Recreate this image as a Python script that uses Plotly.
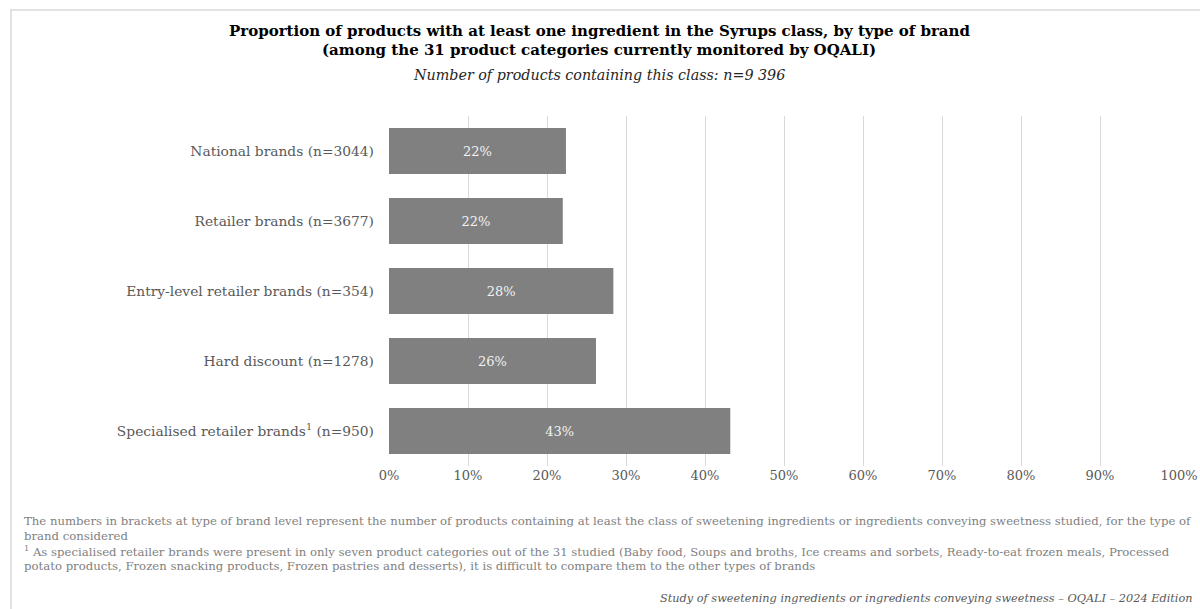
import plotly.graph_objects as go

categories = [
    "National brands (n=3044)",
    "Retailer brands (n=3677)",
    "Entry-level retailer brands (n=354)",
    "Hard discount (n=1278)",
    "Specialised retailer brands<sup>1</sup> (n=950)",
]
values = [22.4, 22.0, 28.4, 26.2, 43.2]
value_labels = ["22%", "22%", "28%", "26%", "43%"]
tick_vals = [0, 10, 20, 30, 40, 50, 60, 70, 80, 90, 100]
tick_text = ["0%", "10%", "20%", "30%", "40%", "50%", "60%", "70%", "80%", "90%", "100%"]

title_l1 = "Proportion of products with at least one ingredient in the Syrups class, by type of brand"
title_l2 = "(among the 31 product categories currently monitored by OQALI)"
subtitle = "Number of products containing this class: n=9 396"
foot1 = ("The numbers in brackets at type of brand level represent the number of products containing at least the class of "
         "sweetening ingredients or ingredients conveying sweetness studied, for the type of")
foot2 = "brand considered"
foot3 = ("<sup>1</sup> As specialised retailer brands were present in only seven product categories out of the 31 studied "
         "(Baby food, Soups and broths, Ice creams and sorbets, Ready-to-eat frozen meals, Processed")
foot4 = ("potato products, Frozen snacking products, Frozen pastries and desserts), it is difficult to compare them "
         "to the other types of brands")
source = "Study of sweetening ingredients or ingredients conveying sweetness \u2013 OQALI \u2013 2024 Edition"

FONT = "DejaVu Serif"
W, H = 1200, 609
L, R, T, B = 389, 1179, 116, 466

def px(x):
    return (x - L) / (R - L)

def py(y):
    return (B - y) / (B - T)

fig = go.Figure(go.Bar(
    y=categories, x=values, orientation="h",
    marker=dict(color="#808080", line=dict(width=0)),
    text=value_labels, textposition="inside", insidetextanchor="middle",
    textfont=dict(family=FONT, size=13, color="#f2f2f2"),
    hoverinfo="skip",
))

fig.update_layout(
    width=W, height=H,
    margin=dict(l=L, r=W - R, t=T, b=H - B, pad=0, autoexpand=False),
    paper_bgcolor="white", plot_bgcolor="white",
    bargap=0.34,
    showlegend=False,
    font=dict(family=FONT, color="#595959"),
    xaxis=dict(range=[0, 100], tickvals=tick_vals, ticktext=tick_text,
               showgrid=True, gridcolor="#d9d9d9", gridwidth=1, automargin=False,
               zeroline=False, showline=False, ticks="",
               tickfont=dict(family=FONT, size=13, color="#595959"), fixedrange=True),
    yaxis=dict(autorange="reversed", showgrid=False, zeroline=False, showline=False,
               ticks="", ticklabelstandoff=14, automargin=False,
               tickfont=dict(family=FONT, size=13.8, color="#595959"), fixedrange=True),
)

ann = [
    dict(text="<b>" + title_l1 + "</b>", x=px(599), y=py(31), font=dict(size=15, color="#000000")),
    dict(text="<b>" + title_l2 + "</b>", x=px(599), y=py(50), font=dict(size=15, color="#000000")),
    dict(text="<i>" + subtitle + "</i>", x=px(599), y=py(75), font=dict(size=14.3, color="#262626")),
]
for a in ann:
    a.update(xref="paper", yref="paper", showarrow=False, xanchor="center", yanchor="middle")

foot_font = dict(family=FONT, size=11.7, color="#7f7f7f")
for txt, yy in [(foot1, 521), (foot2, 536), (foot3, 551), (foot4, 566)]:
    ann.append(dict(text=txt, x=px(22), y=py(yy), xref="paper", yref="paper", showarrow=False,
                    xanchor="left", yanchor="middle", font=foot_font))
ann.append(dict(text="<i>" + source + "</i>", x=px(1195), y=py(598), xref="paper", yref="paper",
                showarrow=False, xanchor="right", yanchor="middle",
                font=dict(family=FONT, size=11.3, color="#595959")))
fig.update_layout(annotations=ann)

fig.add_shape(type="rect", xref="paper", yref="paper",
              x0=px(11), x1=px(1210), y0=py(10), y1=py(620),
              line=dict(color="#d9d9d9", width=1.5), fillcolor="rgba(0,0,0,0)", layer="below")

fig.write_html("out.html", config={"displayModeBar": False},
               post_script="document.body.style.margin='0';document.body.style.overflow='hidden';")
